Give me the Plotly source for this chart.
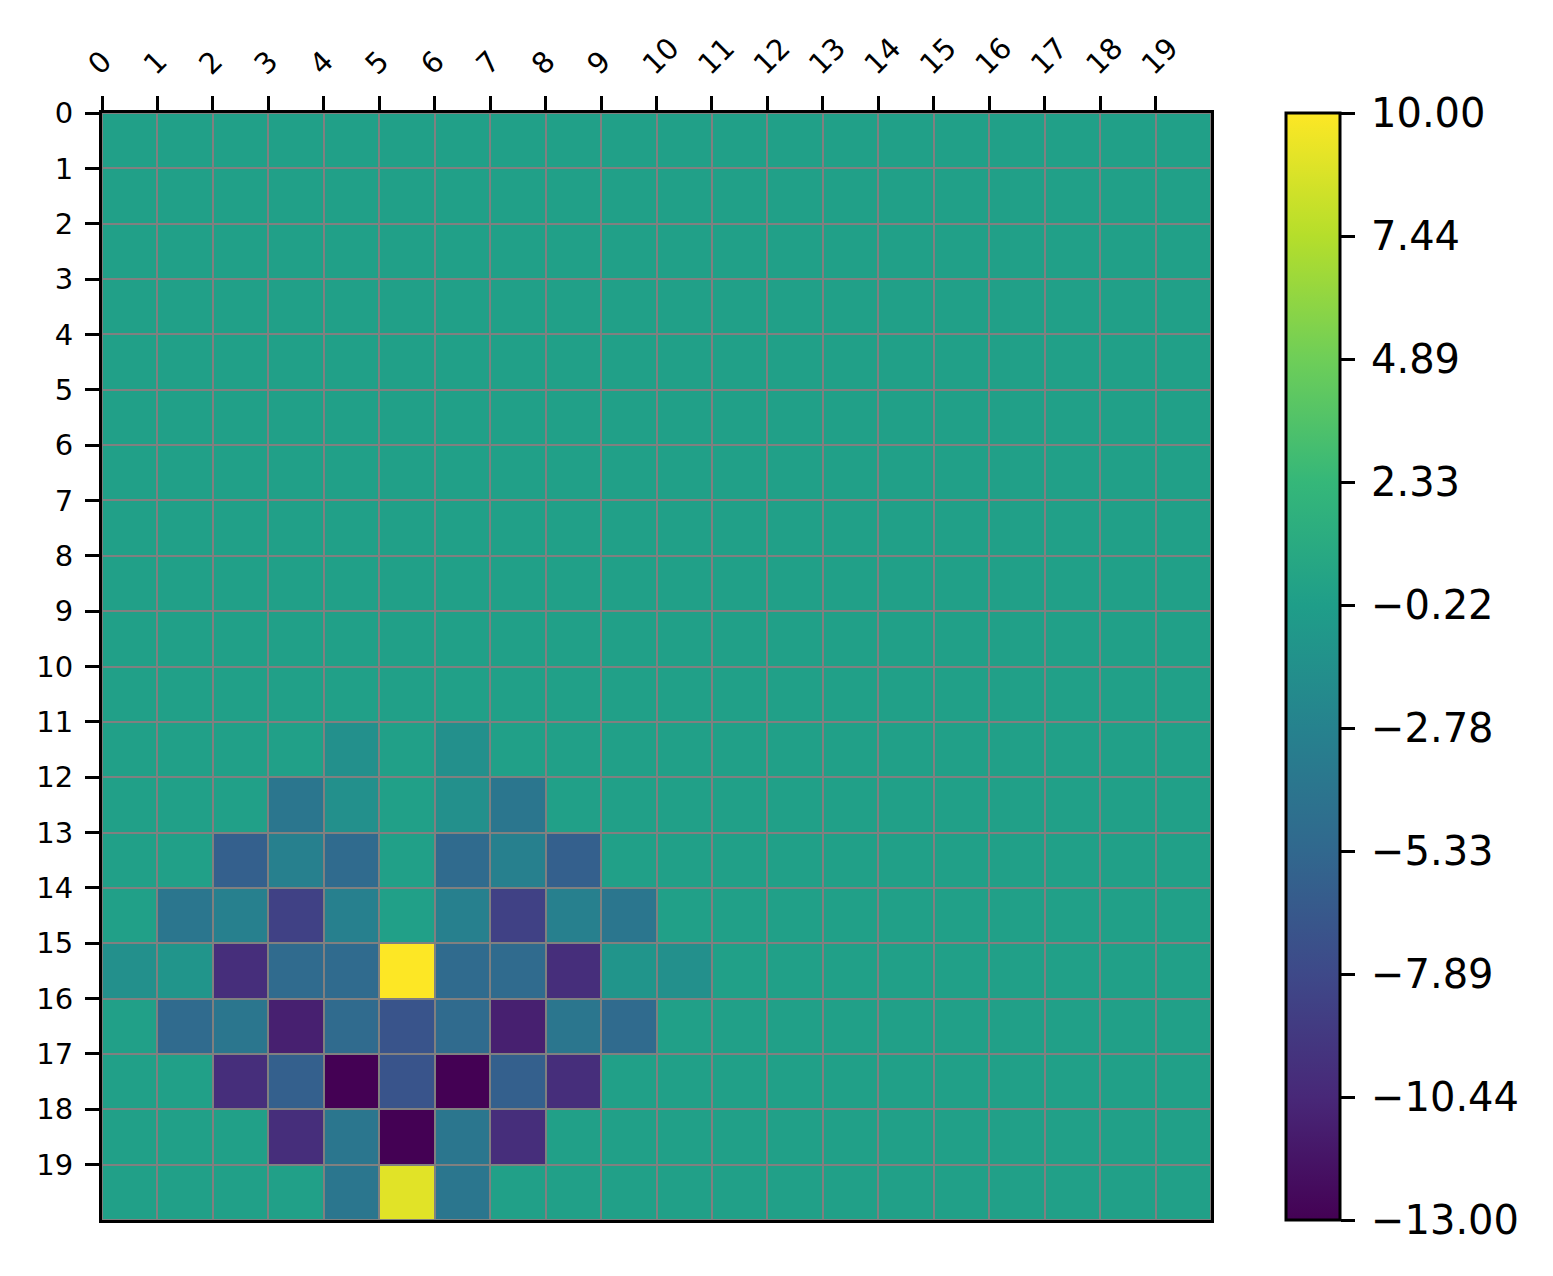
import plotly.graph_objects as go

N = 20
col_labels = [str(i) for i in range(N)]
row_labels = [str(i) for i in range(N)]

Z0 = [0] * 20
row_11 = [0, 0, 0, 0, -1.5, 0, -1.5, 0, 0, 0, 0, 0, 0, 0, 0, 0, 0, 0, 0, 0]
row_12 = [0, 0, 0, -4, -1.5, 0, -1.5, -4, 0, 0, 0, 0, 0, 0, 0, 0, 0, 0, 0, 0]
row_13 = [0, 0, -6, -3, -5, 0, -5, -3, -6, 0, 0, 0, 0, 0, 0, 0, 0, 0, 0, 0]
row_14 = [0, -4, -3, -8.5, -3, 0, -3, -8.5, -3, -4, 0, 0, 0, 0, 0, 0, 0, 0, 0, 0]
row_15 = [-1.5, -1, -10, -5, -5, 10, -5, -5, -10, -1, -1.5, 0, 0, 0, 0, 0, 0, 0, 0, 0]
row_16 = [0, -5, -4, -11, -5, -7, -5, -11, -4, -5, 0, 0, 0, 0, 0, 0, 0, 0, 0, 0]
row_17 = [0, 0, -10, -6, -13, -7, -13, -6, -10, 0, 0, 0, 0, 0, 0, 0, 0, 0, 0, 0]
row_18 = [0, 0, 0, -10, -4, -13, -4, -10, 0, 0, 0, 0, 0, 0, 0, 0, 0, 0, 0, 0]
row_19 = [0, 0, 0, 0, -4, 9, -4, 0, 0, 0, 0, 0, 0, 0, 0, 0, 0, 0, 0, 0]

z = [list(Z0) for _ in range(11)] + [row_11, row_12, row_13, row_14, row_15,
                                      row_16, row_17, row_18, row_19]

zmin, zmax = -13.0, 10.0
cb_vals = [zmin + i * (zmax - zmin) / 9 for i in range(10)]
cb_text = ["\u2009" + f"{v:.2f}".replace("-", "\u2212") for v in cb_vals]

FONT = "DejaVu Sans"

fig = go.Figure(go.Heatmap(
    z=z, x0=0.5, dx=1, y0=0.5, dy=1,
    colorscale="Viridis", zmin=zmin, zmax=zmax,
    xgap=2, ygap=2,
    colorbar=dict(
        x=(1286 - 102) / 1109, xanchor="left", xpad=0, ypad=0,
        y=0.5, yanchor="middle", len=1, lenmode="fraction",
        thickness=54, thicknessmode="pixels",
        outlinecolor="black", outlinewidth=3,
        tickmode="array", tickvals=cb_vals, ticktext=cb_text,
        ticks="outside", ticklen=14, tickwidth=3, tickcolor="black",
        tickfont=dict(family=FONT, size=40, color="black"),
    ),
    hoverinfo="skip",
))

fig.update_layout(
    width=1553, height=1276,
    margin=dict(l=94, r=1553 - 1211 + 8, t=105, b=1276 - 1220 + 8),
    paper_bgcolor="white", plot_bgcolor="#808080",
    font=dict(family=FONT, color="black"),
)
fig.update_xaxes(
    range=[0, N], side="top", tickmode="array",
    tickvals=list(range(N)), ticktext=col_labels, tickangle=-45,
    ticklabelshift=-12, ticklabelstandoff=4,
    ticks="outside", ticklen=14, tickwidth=3, tickcolor="black",
    tickfont=dict(family=FONT, size=29, color="black"),
    showline=True, linecolor="black", linewidth=3, mirror=True,
    showgrid=False, zeroline=False,
)
fig.update_yaxes(
    range=[N, 0], tickmode="array",
    tickvals=list(range(N)), ticktext=row_labels,
    ticklabelstandoff=6,
    ticks="outside", ticklen=14, tickwidth=3, tickcolor="black",
    tickfont=dict(family=FONT, size=29, color="black"),
    showline=True, linecolor="black", linewidth=3, mirror=True,
    showgrid=False, zeroline=False,
)

fig.write_html("out.html")
